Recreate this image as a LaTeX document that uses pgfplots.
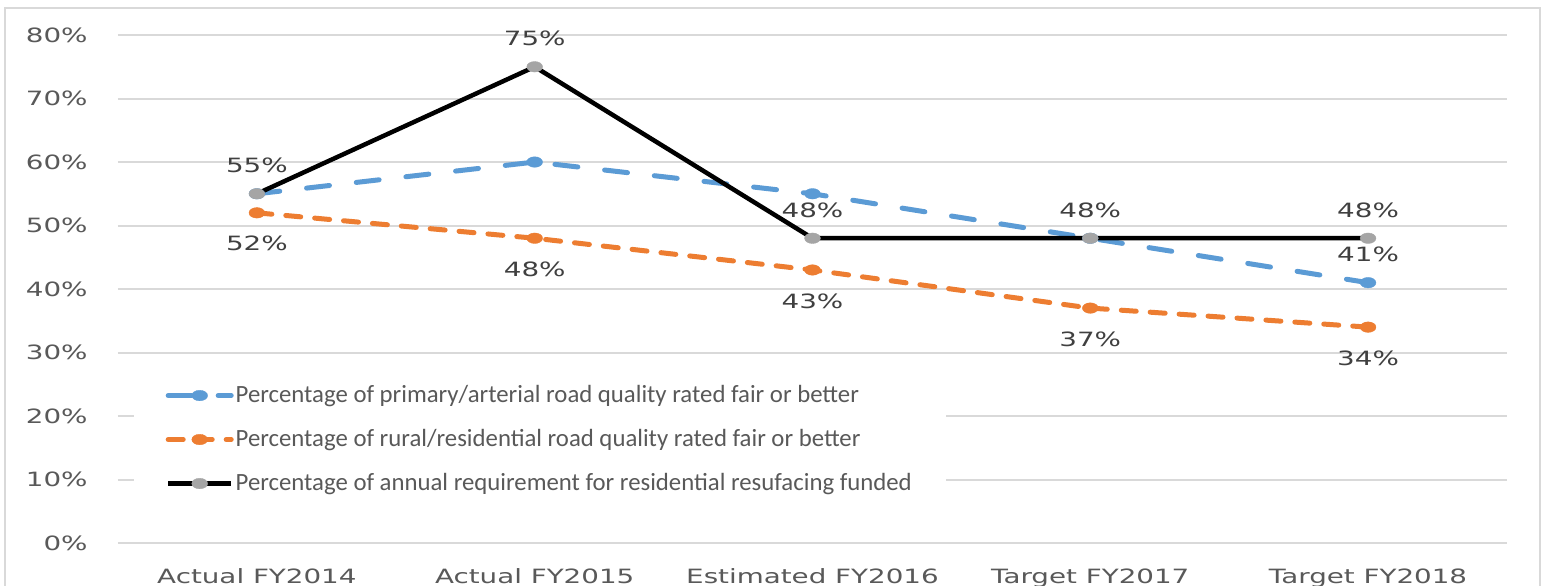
\documentclass[border=0pt]{standalone}
\usepackage{pgfplots}
\pgfplotsset{compat=1.18}
\usepackage{fontspec}
\newfontfamily\lblfont[FakeStretch=1.41]{DejaVu Sans}
\newfontfamily\legfont{Carlito}
\definecolor{cblue}{HTML}{5B9BD5}
\definecolor{corange}{HTML}{ED7D31}
\definecolor{cgraymk}{HTML}{A5A5A5}
\definecolor{cgrid}{HTML}{D9D9D9}
\definecolor{ctext}{HTML}{595959}
\definecolor{clabel}{HTML}{404040}
\begin{document}
\begin{tikzpicture}
\useasboundingbox (0,0) rectangle (154.3mm,-58.5mm);
\clip (0,0) rectangle (154.3mm,-58.5mm);
\fill[white] (0,0) rectangle (154.3mm,-58.5mm);
\draw[cgrid, line width=0.25mm] (0.5mm,-0.8mm) rectangle (154.0mm,-62mm);
\begin{axis}[
  at={(11.8mm,-54.3mm)}, anchor=south west,
  scale only axis, width=138.9mm, height=50.8mm,
  xmin=-0.5, xmax=4.5, ymin=0, ymax=80,
  clip=false,
  xtick={0,1,2,3,4},
  xticklabels={Actual FY2014, Actual FY2015, Estimated FY2016, Target FY2017, Target FY2018},
  ytick={0,10,...,80},
  yticklabels={0\%,10\%,20\%,30\%,40\%,50\%,60\%,70\%,80\%},
  major tick length=0pt,
  axis line style={draw=none},
  ymajorgrids,
  major grid style={line width=0.2mm, color=cgrid},
  tick label style={font=\lblfont\fontsize{5.6}{6.7}\selectfont, text=ctext},
  yticklabel style={xshift=-1.8mm},
  xticklabel style={yshift=-1.35mm},
  nodes near coords={\pgfmathprintnumber[assume math mode=true]{\pgfplotspointmeta}\%},
  every node near coord/.append style={font=\lblfont\fontsize{5.6}{6.7}\selectfont, text=clabel, anchor=center},
  legend style={
    at={(axis description cs:0.0108,0.336)}, anchor=north west,
    draw=none, fill=white, inner xsep=3.2mm, inner ysep=1mm,
    font=\legfont\fontsize{7.05}{8.4}\selectfont, text=ctext,
    row sep=1.9mm,
    nodes={inner xsep=0.2mm, inner ysep=0pt, text height=1.9mm, text depth=0.6mm},
  },
  legend cell align=left,
  legend image code/.code={\draw[mark repeat=2,mark phase=2,#1] plot coordinates {(0mm,0mm) (3.15mm,0mm) (6.3mm,0mm)};},
]
\addplot[cblue, line width=0.5mm, line cap=round, dash pattern=on 2.3mm off 2.7mm,
  mark=*, mark size=1.5pt, mark options={solid, line width=0.1pt, fill=cblue, draw=cblue, xscale=1.5},
  nodes near coords={}]
  coordinates {(0,55) (1,60) (2,55) (3,48) (4,41)};
\addlegendentry{Percentage of primary/arterial road quality rated fair or better}
\addplot[corange, line width=0.5mm, line cap=round, dash pattern=on 1.5mm off 1.4mm,
  mark=*, mark size=1.5pt, mark options={solid, line width=0.1pt, fill=corange, draw=corange, xscale=1.5},
  every node near coord/.append style={yshift=-3.1mm}]
  coordinates {(0,52) (1,48) (2,43) (3,37) (4,34)};
\addlegendentry{Percentage of rural/residential road quality rated fair or better}
\addplot[black, line width=0.45mm,
  mark=*, mark size=1.5pt, mark options={solid, line width=0.1pt, fill=cgraymk, draw=cgraymk, xscale=1.5},
  every node near coord/.append style={yshift=2.8mm}]
  coordinates {(0,55) (1,75) (2,48) (3,48) (4,48)};
\addlegendentry{Percentage of annual requirement for residential resufacing funded}
\addplot[draw=none, forget plot, every node near coord/.append style={yshift=2.8mm}]
  coordinates {(4,41)};
\end{axis}
\end{tikzpicture}
\end{document}
